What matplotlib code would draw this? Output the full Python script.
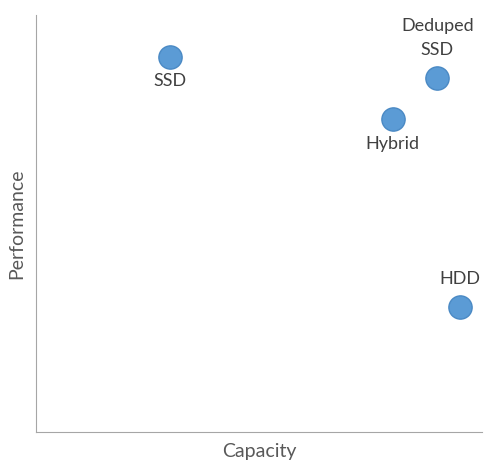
import matplotlib
matplotlib.use("Agg")
import matplotlib.pyplot as plt

plt.rcParams['font.family'] = ['Lato', 'DejaVu Sans']

labels = ["SSD", "Deduped\nSSD", "Hybrid", "HDD"]
capacity = [3.0, 9.0, 8.0, 9.5]
performance = [9.0, 8.5, 7.5, 3.0]
above = [False, True, False, True]

fig = plt.figure(figsize=(4.85, 4.72), dpi=100)
ax = fig.add_axes([36/485, 40/472, 446/485, 417/472])
ax.scatter(capacity, performance, s=280, color="#5B9BD5", edgecolor="#4A89C4", linewidth=1, zorder=3)
for x, y, t, a in zip(capacity, performance, labels, above):
    if a:
        ax.annotate(t, (x, y), xytext=(0, 14), textcoords="offset points", ha="center", va="bottom",
                    fontsize=13, color="#404040", linespacing=1.6)
    else:
        ax.annotate(t, (x, y), xytext=(0, -12), textcoords="offset points", ha="center", va="top",
                    fontsize=13, color="#404040")
ax.set_xlim(0, 10)
ax.set_ylim(0, 10)
ax.set_xticks([]); ax.set_yticks([])
for s in ["top", "right"]:
    ax.spines[s].set_visible(False)
for s in ["left", "bottom"]:
    ax.spines[s].set_color("#A6A6A6")
ax.set_xlabel("Capacity", fontsize=14, color="#595959", labelpad=8)
ax.set_ylabel("Performance", fontsize=14, color="#595959", labelpad=8)
fig.savefig("out.png", dpi=100)
